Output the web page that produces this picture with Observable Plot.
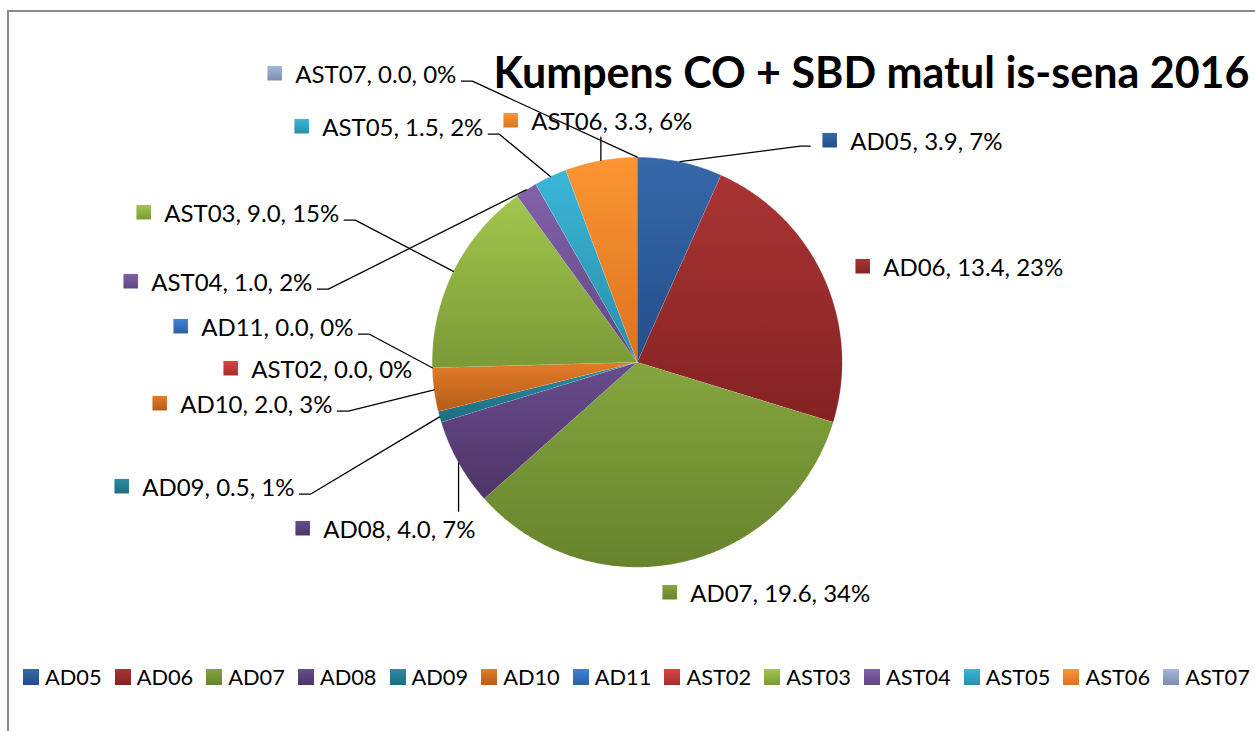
<!DOCTYPE html>
<html><head><meta charset="utf-8">
<script src="https://cdn.jsdelivr.net/npm/d3@7"></script>
<script src="https://cdn.jsdelivr.net/npm/@observablehq/plot@0.6"></script>
<style>
html,body{margin:0;padding:0;background:#fff;overflow:hidden;width:1255px;height:731px;}
#frame{position:absolute;left:7px;top:10px;width:1400px;height:900px;border:2px solid #8a8a8a;box-sizing:border-box;}
#chart{position:absolute;left:0;top:0;}
#legend{position:absolute;left:23px;top:660px;white-space:nowrap;width:1400px;}
#legend div, #legend span{font-family:Lato,sans-serif !important;font-size:21.8px !important;color:#000 !important;}
#legend div{margin:0 !important;flex-wrap:nowrap !important;}
#legend span{margin-right:13px !important;}
#legend span > svg{margin-right:6px !important;}
</style></head><body>
<div id="frame"></div><div id="chart"></div><div id="legend"></div>
<script>
// ---- data ----
const categories = ["AD05","AD06","AD07","AD08","AD09","AD10","AD11","AST02","AST03","AST04","AST05","AST06","AST07"];
const values = [3.9,13.4,19.6,4.0,0.5,2.0,0.0,0.0,9.0,1.0,1.5,3.3,0.0];
const valueLabels = ["3.9","13.4","19.6","4.0","0.5","2.0","0.0","0.0","9.0","1.0","1.5","3.3","0.0"];
const percentLabels = ["7%","23%","34%","7%","1%","3%","0%","0%","15%","2%","2%","6%","0%"];
const title = "Kumpens CO + SBD matul is-sena 2016";

// ---- styles ----
const colorTop    = ["#3668aa","#aa3434","#84a53e","#684c8e","#2c8ca2","#e27c28","#3e82d8","#da4444","#a2c64e","#8262aa","#3cb6d8","#fc9632","#a4b8de"];
const colorBottom = ["#234e88","#842222","#66832c","#4e3466","#1e6c7e","#b65c18","#2c60a6","#a62e2e","#7a9a36","#604682","#288eaa","#dc7220","#7c8eae"];
// label layout: marker left edge / centre, px offsets from the pie centre
const labelLayout = [
  {dx:185, dy:-222, leader:true},
  {dx:218, dy:-96, leader:false},
  {dx:25, dy:230, leader:false},
  {dx:-342, dy:166, leader:true},
  {dx:-523, dy:124, leader:true},
  {dx:-485, dy:41, leader:true},
  {dx:-464, dy:-36, leader:true},
  {dx:-414, dy:6, leader:false},
  {dx:-501, dy:-150, leader:true},
  {dx:-514, dy:-81, leader:true},
  {dx:-343, dy:-236, leader:true},
  {dx:-134, dy:-242, leader:true},
  {dx:-370, dy:-289, leader:true}
];
const W = 1255, H = 640, CX = 636.7, CY = 361.7, R = 205;

const grads = categories.map((_, i) => `url(#g${i})`);
const arcs = d3.pie().sort(null).startAngle(0).endAngle(2 * Math.PI)(values);

// slice polygons (in radius units, y up)
const slices = [];
arcs.forEach((a, i) => {
  if (a.endAngle - a.startAngle <= 0) return;
  slices.push({name: categories[i], fill: grads[i], x: 0, y: 0});
  const n = Math.max(2, Math.ceil((a.endAngle - a.startAngle) / 0.01));
  for (let k = 0; k <= n; k++) {
    const t = a.startAngle + (a.endAngle - a.startAngle) * k / n;
    slices.push({name: categories[i], fill: grads[i], x: Math.sin(t), y: Math.cos(t)});
  }
});
const shadow = d3.range(0, 361).map(k => ({x: Math.sin(k * Math.PI / 180), y: Math.cos(k * Math.PI / 180)}));

// labels + leaders
const ctx = document.createElement("canvas").getContext("2d");
ctx.font = "24px Lato";
const labels = [], leaders = [];
arcs.forEach((a, i) => {
  const L = labelLayout[i];
  const text = `${categories[i]}, ${valueLabels[i]}, ${percentLabels[i]}`;
  labels.push({text, fill: grads[i], x: L.dx / R, y: -L.dy / R});
  if (!L.leader) return;
  const w = ctx.measureText(text).width;
  const left = L.dx, right = L.dx + 28 + w, top = L.dy - 17, bottom = L.dy + 17;
  const m = (a.startAngle + a.endAngle) / 2;
  const px = R * Math.sin(m), py = -R * Math.cos(m);
  let pts;
  if (px >= left && px <= right) pts = [[px, py], [px, py < L.dy ? top : bottom]];
  else if (right < px) pts = [[right + 5, L.dy + 8], [right + 16, L.dy + 8], [px, py]];
  else pts = [[left - 12, L.dy + 6], [left - 22, L.dy + 6], [px, py]];
  pts.forEach(p => leaders.push({name: categories[i], x: p[0] / R, y: -p[1] / R}));
});

const svg = Plot.plot({
  width: W, height: H, margin: 0,
  x: {domain: [-CX / R, (W - CX) / R], range: [0, W], axis: null},
  y: {domain: [-(H - CY) / R, CY / R], range: [H, 0], axis: null},
  color: {type: "identity"},
  style: {fontFamily: "Lato, sans-serif", background: "transparent", overflow: "visible"},
  marks: [
    Plot.line(shadow, {x: "x", y: "y", fill: "#000", fillOpacity: 0.32, stroke: "none", dy: 5, ariaLabel: "pie-shadow"}),
    Plot.line(slices, {x: "x", y: "y", z: "name", fill: "fill", stroke: "#fff", strokeOpacity: 0.25, strokeWidth: 0.6}),
    Plot.line(leaders, {x: "x", y: "y", z: "name", stroke: "#000", strokeWidth: 1.3}),
    Plot.dot(labels, {x: "x", y: "y", dx: 7.5, symbol: "square", r: 8.2, fill: "fill", stroke: "none"}),
    Plot.text(labels, {x: "x", y: "y", dx: 28, dy: 2, text: "text", textAnchor: "start", fontSize: 24, fill: "#000"}),
    Plot.text([title], {frameAnchor: "top-left", dx: 493, dy: 57, text: d => d, textAnchor: "start", fontSize: 43, fontWeight: "bold", fill: "#000"})
  ]
});

const defs = `<defs>
<filter id="blur" x="-20%" y="-20%" width="140%" height="140%"><feGaussianBlur stdDeviation="4"/></filter>
${categories.map((_, i) => `<linearGradient id="g${i}" x1="0" y1="0" x2="0" y2="1"><stop offset="0" stop-color="${colorTop[i]}"/><stop offset="1" stop-color="${colorBottom[i]}"/></linearGradient>`).join("")}
</defs>`;
svg.insertAdjacentHTML("afterbegin", defs);
const sh = svg.querySelector('g[aria-label="pie-shadow"]');
if (sh) sh.setAttribute("filter", "url(#blur)");
document.getElementById("chart").appendChild(svg);

const leg = Plot.legend({
  color: {type: "ordinal", domain: categories, range: grads},
  legend: "swatches", swatchSize: 16, className: "lg"
});
document.getElementById("legend").appendChild(leg);
</script>
</body></html>
